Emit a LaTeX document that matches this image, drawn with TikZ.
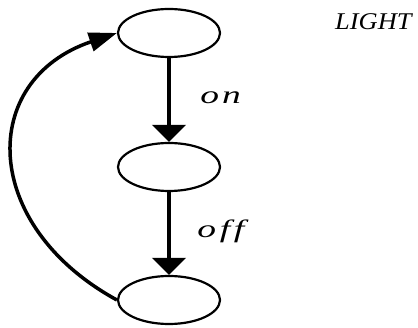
\documentclass[tikz,border=0pt]{standalone}
\usepackage{fontspec}
\newfontfamily\lightfont{Liberation Serif}
\usetikzlibrary{arrows.meta,shapes.geometric}
\begin{document}
\begin{tikzpicture}[x=1pt,y=-1pt,
  state/.style={draw, line width=2.2pt, ellipse, minimum width=102pt, minimum height=48pt, inner sep=0pt},
  trans/.style={line width=4.5pt, -{Triangle[length=17pt,width=33pt]}},
  loopback/.style={line width=3.5pt, -{Triangle[length=28pt,width=19pt]}},
  lab/.style={inner sep=0pt, anchor=base west, font=\lightfont\itshape\fontsize{25}{25}\selectfont, xscale=1.5},
  title/.style={inner sep=0pt, anchor=base west, font=\lightfont\itshape\fontsize{24}{24}\selectfont, xscale=1.1}]
\useasboundingbox (0,0) rectangle (418,328);
\node[state] (t) at (169,33) {};
\node[state] (m) at (169,167) {};
\node[state] (b) at (169,300) {};
\draw[trans] (t) -- (m);
\draw[trans] (m) -- (b);
\draw[loopback] (b.west) .. controls (-20,225) and (-22,80) .. (t.west);
\node[lab] (on) at (200,104) {o\kern2pt n};
\node[lab] (off) at (197,238) {o\kern2.5pt f\kern2.5pt f};
\node[title] (light) at (335,30) {LIGHT};
\end{tikzpicture}
\end{document}
